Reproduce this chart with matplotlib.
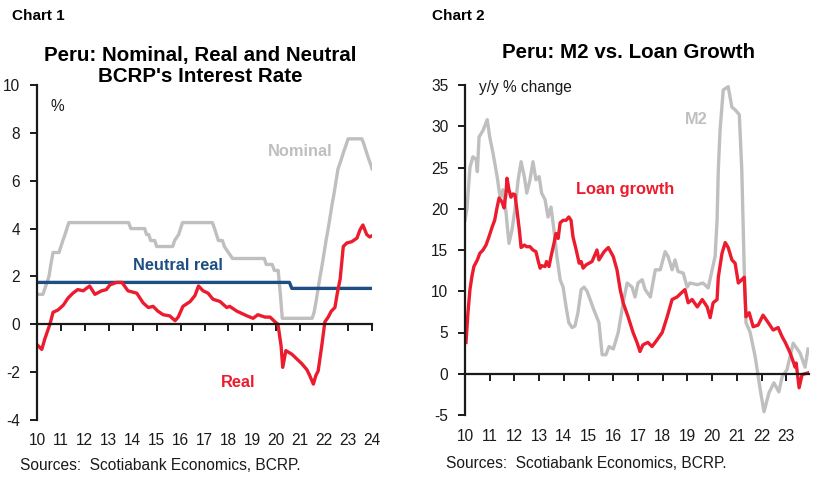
import matplotlib
matplotlib.use('Agg')
import matplotlib.pyplot as plt
import matplotlib.transforms as mtransforms
import numpy as np

plt.rcParams['font.family'] = ['Liberation Sans', 'DejaVu Sans']
plt.rcParams['axes.unicode_minus'] = False

# ---- Chart 1 data: BCRP policy rate (nominal), real rate, neutral real rate
nominal_t = [2010.0, 2010.25, 2010.33, 2010.42, 2010.5, 2010.58, 2010.67, 2010.92, 2011.0, 2011.08,
             2011.17, 2011.25, 2011.33, 2013.83, 2013.92, 2014.5, 2014.58, 2014.67, 2014.75, 2014.92,
             2015.0, 2015.67, 2015.75, 2015.92, 2016.0, 2016.08, 2017.33, 2017.42, 2017.5, 2017.58,
             2017.75, 2017.83, 2018.0, 2018.17, 2019.5, 2019.58, 2019.83, 2019.92, 2020.08, 2020.17,
             2020.25, 2021.5, 2021.58, 2021.67, 2021.75, 2021.83, 2021.92, 2022.0, 2022.08, 2022.17,
             2022.25, 2022.33, 2022.42, 2022.5, 2022.58, 2022.67, 2022.75, 2022.83, 2022.92, 2023.0,
             2023.58, 2023.67, 2023.75, 2023.83, 2023.92, 2024.0]
nominal_v = [1.25, 1.25, 1.5, 1.75, 2.0, 2.5, 3.0, 3.0, 3.25, 3.5,
             3.75, 4.0, 4.25, 4.25, 4.0, 4.0, 3.75, 3.75, 3.5, 3.5,
             3.25, 3.25, 3.5, 3.75, 4.0, 4.25, 4.25, 4.0, 3.75, 3.5,
             3.5, 3.25, 3.0, 2.75, 2.75, 2.5, 2.5, 2.25, 2.25, 1.25,
             0.25, 0.25, 0.5, 1.0, 1.5, 2.0, 2.5, 3.0, 3.5, 4.0,
             4.5, 5.0, 5.5, 6.0, 6.5, 6.75, 7.0, 7.25, 7.5, 7.75,
             7.75, 7.5, 7.25, 7.0, 6.75, 6.5]

real_t = [2010.0, 2010.1, 2010.2, 2010.33, 2010.54, 2010.67, 2010.88, 2011.1, 2011.3, 2011.5,
          2011.7, 2011.93, 2012.2, 2012.42, 2012.7, 2012.9, 2013.05, 2013.33, 2013.55, 2013.8,
          2014.17, 2014.43, 2014.65, 2014.85, 2015.05, 2015.27, 2015.55, 2015.77, 2015.9, 2016.1,
          2016.4, 2016.6, 2016.75, 2016.94, 2017.15, 2017.35, 2017.65, 2017.93, 2018.05, 2018.35,
          2018.78, 2019.03, 2019.23, 2019.53, 2019.74, 2019.95, 2020.07, 2020.2, 2020.27, 2020.4,
          2020.65, 2020.86, 2021.07, 2021.28, 2021.4, 2021.55, 2021.65, 2021.75, 2021.9, 2022.03,
          2022.17, 2022.3, 2022.45, 2022.55, 2022.67, 2022.8, 2022.95, 2023.15, 2023.37, 2023.5,
          2023.62, 2023.78, 2023.9, 2024.0]
real_v = [-0.85, -0.95, -1.05, -0.6, 0.0, 0.5, 0.6, 0.8, 1.1, 1.3,
          1.45, 1.4, 1.6, 1.25, 1.4, 1.45, 1.65, 1.75, 1.75, 1.4,
          1.3, 0.9, 0.7, 0.75, 0.55, 0.4, 0.35, 0.15, 0.3, 0.75,
          0.95, 1.2, 1.6, 1.4, 1.3, 1.05, 0.95, 0.7, 0.75, 0.55,
          0.35, 0.25, 0.4, 0.3, 0.3, 0.1, 0.0, -0.9, -1.8, -1.1,
          -1.25, -1.45, -1.65, -1.9, -2.15, -2.5, -2.15, -1.95, -0.9, 0.1,
          0.3, 0.55, 0.7, 1.3, 1.9, 3.25, 3.4, 3.45, 3.6, 3.95,
          4.15, 3.75, 3.65, 3.7]

neutral_t = [2010.0, 2020.55, 2020.65, 2024.0]
neutral_v = [1.75, 1.75, 1.5, 1.5]

# ---- Chart 2 data: M2 and loan growth, y/y % change
m2_t = [2010.0, 2010.08, 2010.2, 2010.32, 2010.45, 2010.5, 2010.57, 2010.73, 2010.9, 2011.0,
        2011.13, 2011.3, 2011.42, 2011.54, 2011.66, 2011.78, 2011.9, 2012.02, 2012.15, 2012.27,
        2012.4, 2012.5, 2012.63, 2012.75, 2012.87, 2013.0, 2013.1, 2013.24, 2013.36, 2013.48,
        2013.6, 2013.72, 2013.85, 2013.97, 2014.09, 2014.2, 2014.33, 2014.45, 2014.57, 2014.7,
        2014.82, 2014.94, 2015.22, 2015.42, 2015.55, 2015.7, 2015.83, 2016.0, 2016.2, 2016.4,
        2016.56, 2016.76, 2016.88, 2017.0, 2017.17, 2017.29, 2017.5, 2017.7, 2017.9, 2018.1,
        2018.22, 2018.38, 2018.5, 2018.62, 2018.83, 2018.99, 2019.1, 2019.4, 2019.63, 2019.84,
        2020.0, 2020.12, 2020.2, 2020.25, 2020.32, 2020.45, 2020.65, 2020.8, 2020.93, 2021.1,
        2021.2, 2021.3, 2021.37, 2021.54, 2021.74, 2021.95, 2022.1, 2022.3, 2022.5, 2022.7,
        2022.83, 2023.03, 2023.28, 2023.56, 2023.76, 2023.88]
m2_v = [18.6, 20.0, 25.0, 26.3, 26.0, 24.5, 28.7, 29.5, 30.8, 28.7,
        26.8, 23.9, 21.4, 22.3, 19.5, 15.8, 17.4, 19.9, 23.5, 25.7,
        23.9, 21.9, 23.5, 25.7, 23.5, 23.9, 21.9, 21.1, 19.0, 20.2,
        17.4, 14.2, 11.4, 10.5, 8.1, 6.2, 5.6, 5.8, 7.4, 10.2,
        10.5, 10.0, 7.7, 6.2, 2.3, 2.3, 3.3, 3.0, 5.0, 8.6,
        11.0, 10.5, 9.3, 11.0, 11.4, 10.2, 9.3, 12.6, 12.6, 14.8,
        14.2, 12.6, 13.8, 12.4, 12.2, 10.5, 11.0, 10.8, 11.0, 10.4,
        12.6, 14.2, 18.6, 24.7, 29.5, 34.4, 34.8, 32.3, 32.0, 31.4,
        24.7, 12.6, 6.2, 5.0, 2.1, -2.0, -4.6, -2.3, -1.1, -2.2,
        -0.4, 0.5, 3.7, 2.5, 0.8, 3.0]

loan_t = [2010.04, 2010.12, 2010.2, 2010.28, 2010.36, 2010.5, 2010.6, 2010.73, 2010.85, 2010.97,
          2011.1, 2011.2, 2011.3, 2011.38, 2011.5, 2011.58, 2011.66, 2011.7, 2011.78, 2011.86,
          2011.94, 2012.02, 2012.1, 2012.2, 2012.27, 2012.4, 2012.5, 2012.63, 2012.75, 2012.87,
          2012.95, 2013.04, 2013.1, 2013.24, 2013.3, 2013.4, 2013.48, 2013.6, 2013.68, 2013.77,
          2013.85, 2013.97, 2014.09, 2014.2, 2014.29, 2014.37, 2014.5, 2014.62, 2014.7, 2014.78,
          2014.9, 2015.14, 2015.34, 2015.42, 2015.63, 2015.8, 2016.0, 2016.15, 2016.28, 2016.4,
          2016.6, 2016.8, 2016.96, 2017.08, 2017.2, 2017.4, 2017.57, 2017.77, 2017.98, 2018.18,
          2018.38, 2018.58, 2018.79, 2018.9, 2019.03, 2019.19, 2019.4, 2019.6, 2019.8, 2019.92,
          2020.04, 2020.2, 2020.25, 2020.4, 2020.53, 2020.65, 2020.8, 2020.93, 2021.06, 2021.2,
          2021.3, 2021.37, 2021.5, 2021.66, 2021.86, 2022.06, 2022.27, 2022.47, 2022.67, 2022.83,
          2022.96, 2023.16, 2023.36, 2023.4, 2023.52, 2023.64, 2023.88]
loan_v = [3.8, 7.4, 10.2, 11.8, 13.0, 13.8, 14.6, 15.0, 15.6, 16.6,
          17.8, 18.6, 20.2, 21.3, 20.8, 20.1, 21.9, 23.7, 22.3, 21.4,
          21.8, 21.7, 19.9, 17.4, 15.3, 15.6, 15.4, 15.4, 15.0, 14.8,
          13.8, 12.8, 13.1, 13.0, 13.6, 13.0, 14.2, 15.8, 17.0, 16.4,
          18.3, 18.6, 18.6, 19.0, 18.6, 16.6, 15.0, 13.4, 13.6, 12.8,
          13.2, 13.6, 15.0, 13.8, 14.8, 15.3, 14.2, 12.6, 10.2, 8.6,
          6.9, 5.0, 3.8, 2.7, 3.5, 3.8, 3.3, 4.1, 5.0, 6.9,
          9.0, 9.3, 9.9, 10.2, 8.6, 9.0, 8.1, 9.0, 8.1, 6.8,
          8.6, 9.0, 11.7, 14.6, 15.9, 15.3, 13.8, 13.4, 11.0, 11.4,
          11.7, 6.9, 7.4, 5.7, 5.9, 7.1, 6.2, 5.3, 5.6, 4.5,
          3.8, 2.5, 0.8, 1.3, -1.7, -0.1, 0.1]

years1 = list(range(2010, 2025))
years2 = list(range(2010, 2024))

GRAY = '#BFBFBF'
RED = '#EC1C2E'
NAVY = '#1F4E85'
TXT = '#1a1a1a'
FS = 11.2

W, H = 828, 483
fig = plt.figure(figsize=(W / 100, H / 100), dpi=100)


def box(x0, x1, y0, y1):
    # pixel box -> figure fraction [left, bottom, width, height]
    return [x0 / W, 1 - y1 / H, (x1 - x0) / W, (y1 - y0) / H]


def style_axes(ax, years, ylab_off):
    for s in ['top', 'right']:
        ax.spines[s].set_visible(False)
    ax.spines['bottom'].set_position(('data', 0))
    ax.spines['left'].set_linewidth(1.6)
    ax.spines['bottom'].set_linewidth(1.6)
    ax.spines['left'].set_color(TXT)
    ax.spines['bottom'].set_color(TXT)
    ax.set_xticks(years)
    ax.tick_params(axis='x', direction='out', length=5, width=1.4, labelbottom=False, color=TXT)
    ax.tick_params(axis='y', direction='out', length=5, width=1.4, pad=7,
                   labelsize=FS, labelcolor=TXT, color=TXT)
    trans = mtransforms.blended_transform_factory(ax.transData, ax.transAxes)
    for yr in years:
        ax.text(yr, ylab_off, '%02d' % (yr % 100), transform=trans, ha='center', va='center',
                fontsize=FS, color=TXT)


# ---------------- Chart 1
ax1 = fig.add_axes(box(37, 372, 85, 420))
ax1.plot(nominal_t, nominal_v, color=GRAY, lw=2.4, solid_joinstyle='round')
ax1.plot(neutral_t, neutral_v, color=NAVY, lw=2.4)
ax1.plot(real_t, real_v, color=RED, lw=2.4, solid_joinstyle='round')
ax1.set_xlim(2010, 2024)
ax1.set_ylim(-4, 10)
ax1.set_yticks(range(-4, 11, 2))
style_axes(ax1, years1, -0.06)

ax1.text(2010.55, 9.1, '%', fontsize=FS, color=TXT, ha='left', va='center')
ax1.text(2022.33, 7.2, 'Nominal', fontsize=11.8, color=GRAY, fontweight='bold', ha='right', va='center')
ax1.text(2015.87, 2.45, 'Neutral real', fontsize=11.8, color=NAVY, fontweight='bold', ha='center', va='center')
ax1.text(2018.42, -2.45, 'Real', fontsize=11.8, color=RED, fontweight='bold', ha='center', va='center')

# ---------------- Chart 2
ax2 = fig.add_axes(box(465, 809, 85, 415))
ax2.plot(m2_t, m2_v, color=GRAY, lw=2.4, solid_joinstyle='round')
ax2.plot(loan_t, loan_v, color=RED, lw=2.4, solid_joinstyle='round')
ax2.set_xlim(2010, 2023.92)
ax2.set_ylim(-5, 35)
ax2.set_yticks(range(-5, 36, 5))
style_axes(ax2, years2, -0.064)

ax2.text(2010.55, 34.75, 'y/y % change', fontsize=FS, color=TXT, ha='left', va='center')
ax2.text(2019.37, 30.8, 'M2', fontsize=11.8, color=GRAY, fontweight='bold', ha='center', va='center')
ax2.text(2016.48, 22.3, 'Loan growth', fontsize=11.8, color=RED, fontweight='bold', ha='center', va='center')

# ---------------- titles and notes
fig.text(12 / W, 1 - 16 / H, 'Chart 1', fontsize=11, fontweight='bold', color='black', ha='left', va='center')
fig.text(432 / W, 1 - 16 / H, 'Chart 2', fontsize=11, fontweight='bold', color='black', ha='left', va='center')
fig.text(200 / W, 1 - 66 / H, "Peru: Nominal, Real and Neutral\nBCRP's Interest Rate", fontsize=14.8,
         fontweight='bold', ha='center', va='center', linespacing=1.1)
fig.text(628 / W, 1 - 53 / H, 'Peru: M2 vs. Loan Growth', fontsize=14.8, fontweight='bold',
         ha='center', va='center')
fig.text(20 / W, 1 - 465 / H, 'Sources:  Scotiabank Economics, BCRP.', fontsize=FS, color=TXT,
         ha='left', va='center')
fig.text(446 / W, 1 - 464 / H, 'Sources:  Scotiabank Economics, BCRP.', fontsize=FS, color=TXT,
         ha='left', va='center')

fig.savefig('out.png', dpi=100)
